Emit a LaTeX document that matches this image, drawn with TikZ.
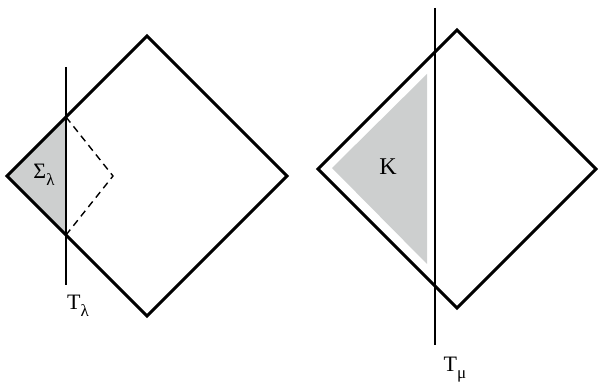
\documentclass[tikz,border=0pt]{standalone}
\usepackage{fontspec}
\setmainfont{Liberation Serif}
\usepackage{tikz}
\definecolor{regiongray}{RGB}{205,207,207}
\tikzset{
  frame/.style={line width=3pt, line join=miter},
  cut/.style={line width=1.8pt},
  hidden/.style={line width=1.4pt, dash pattern=on 7pt off 5pt},
  lbl/.style={inner sep=0pt, font=\fontsize{22}{22}\selectfont}
}
\newcommand{\lsub}[1]{\raisebox{-0.32em}{\fontsize{17}{17}\selectfont #1}}
\begin{document}
\begin{tikzpicture}[x=1pt, y=-1pt]
\useasboundingbox (0,0) rectangle (598,382);
\fill[regiongray] (7,176) -- (66,117) -- (66,235) -- cycle;
\draw[hidden] (66,117) -- (113,176) -- (66,235);
\draw[frame] (7,176) -- (147,36) -- (287,176) -- (147,316) -- cycle;
\draw[cut] (66,67) -- (66,285);
\node[lbl] (sigma) at (44,175) {Σ\lsub{λ}};
\node[lbl] (tl) at (78,306) {T\lsub{λ}};
\fill[regiongray] (332,168) -- (427,74) -- (427,264) -- cycle;
\draw[frame] (318,169) -- (457,30) -- (596,169) -- (457,308) -- cycle;
\draw[cut] (435,8) -- (435,345);
\node[lbl, font=\fontsize{24}{24}\selectfont] (k) at (388,167) {K};
\node[lbl] (tm) at (455,370) {T\lsub{μ}};
\end{tikzpicture}
\end{document}
